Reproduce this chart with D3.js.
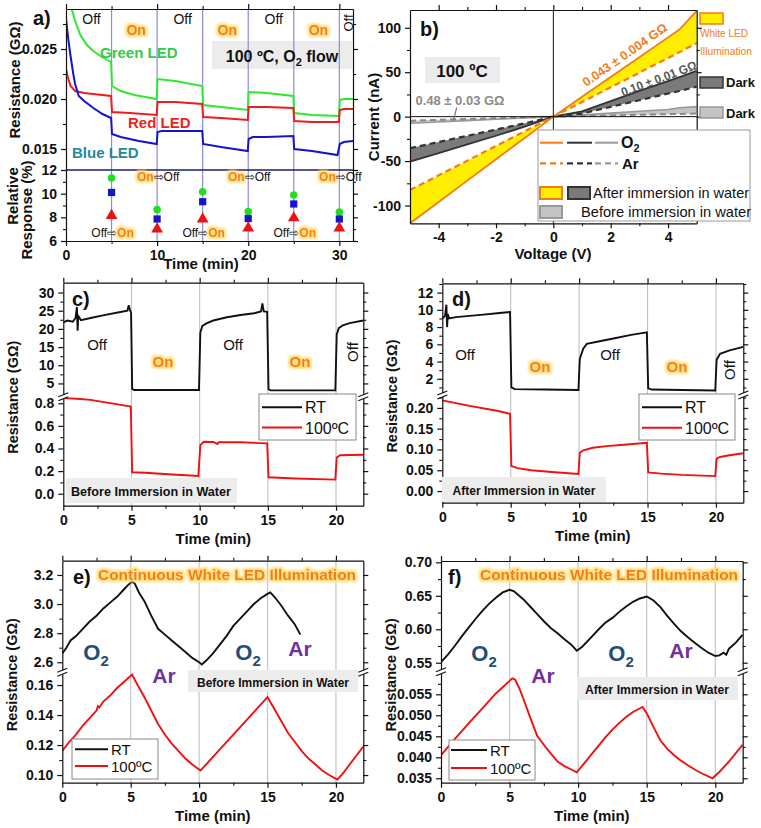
<!DOCTYPE html>
<html>
<head>
<meta charset="utf-8">
<title>LED response of resistance and I-V curves</title>
<script src="https://d3js.org/d3.v7.min.js"></script>
<style>
  body { margin: 0; background: #fff; }
  svg { display: block; font-family: Arial, "Liberation Sans", sans-serif; }
</style>
</head>
<body>
<script>
var FONT = "Arial, 'Liberation Sans', sans-serif";

// ---------- panel a data ----------
var aGreen = [[0.3,0.0315],[0.66,0.0289],[1,0.0278],[1.57,0.0264],[2.3,0.0254],[3,0.0248],[3.76,0.0243],[4.95,0.0237],
  [5.05,0.0213],[6,0.0208],[7.5,0.0204],[9.95,0.0200],[10.05,0.0220],[12,0.0218],[14.95,0.0213],
  [15.05,0.0194],[17,0.0192],[19.95,0.0189],[20.05,0.0207],[22,0.0206],[24.95,0.0203],
  [25.05,0.0186],[27,0.0184],[29.95,0.0183],[30.05,0.0199],[30.5,0.0200],[31.5,0.0200]];
var aRed = [[0,0.0230],[0.2,0.0222],[0.5,0.0213],[1,0.0208],[2,0.0206],[3,0.0205],[4.95,0.0203],
  [5.05,0.0187],[7,0.0186],[9.95,0.0184],[10.05,0.0197],[12,0.0197],[14.95,0.0195],
  [15.05,0.0182],[17,0.0181],[19.95,0.0179],[20.05,0.0192],[22,0.0192],[24.95,0.0191],
  [25.05,0.0178],[27,0.0177],[29.95,0.0177],[30.05,0.0189],[30.5,0.0190],[31.5,0.0190]];
var aBlue = [[0,0.0280],[0.25,0.0260],[0.5,0.0243],[0.8,0.0225],[1,0.0215],[1.4,0.0203],[2,0.0198],[3,0.0191],[4,0.0185],[4.95,0.0181],
  [5.05,0.0165],[6,0.0162],[8,0.0158],[9.95,0.0155],[10.05,0.0167],[10.5,0.0168],[12,0.0168],[14.95,0.0168],
  [15.05,0.0155],[17,0.0152],[19.95,0.0148],[20.05,0.0160],[20.5,0.0162],[22,0.0162],[24.95,0.0163],
  [25.05,0.0150],[27,0.0148],[29.8,0.0144],[30.05,0.0155],[30.5,0.0157],[31.5,0.0158]];
var aSwitch = [5, 10, 15, 20, 25, 30];
var aRespGreen = [11.33, 8.65, 10.16, 8.5, 9.89, 8.45];
var aRespBlue = [10.1, 7.86, 9.32, 7.9, 9.13, 7.86];
var aRespRed = [8.15, 7.0, 7.86, 7.1, 7.95, 7.1];

// ---------- panel b data ----------
var bVolt = [-5, -4, -3, -2, -1, 0, 1, 2, 3, 4, 4.4, 5];
var bO2Light = [-120, -96, -72, -48, -24, 0, 22.3, 44.6, 66.9, 89.2, 98, 119];
var bArLight = [-82.6, -66, -49.5, -33, -16.5, 0, 16.5, 33, 49.5, 66, 72.6, 82.7];
var bO2DarkAfter = [-50.7, -41, -31.3, -21.5, -11.3, 0, 6, 17.5, 29, 40, 44.5, 51.5];
var bArDarkAfter = [-35.5, -28.5, -21.5, -14.5, -7.5, 0, 3.5, 11, 18.5, 26, 28.8, 33.8];
var bO2DarkBefore = [-7.5, -6, -4.5, -3, -1.5, 0, 2, 4, 6, 8, 10, 11.3];
var bArDarkBefore = [-4.5, -3.6, -2.7, -1.8, -0.9, 0, 0.7, 1.4, 2.1, 2.8, 3.1, 3.5];

// ---------- panels c-f data (time in min, resistance in GOhm) ----------
var cRT = [[0,21.8],[0.3,22.3],[0.7,22],[0.9,23],[1.0,26],[1.05,19.5],[1.1,23.5],[1.3,22.4],[2,23],[3,23.8],[4,24.5],[4.7,25],[4.8,26.5],[4.9,25],[4.97,24.5],
  [5.05,3.5],[5.2,3.2],[7.5,3.2],[9.95,3.2],[10.05,19],[10.2,20.8],[10.5,21.5],[11,22.3],[12,23.2],[13,23.8],[14,24.3],[14.5,24.8],[14.6,27],[14.7,24.8],[14.95,24.7],
  [15.05,3.4],[15.2,3.1],[17.5,3.1],[19.95,3.1],[20.05,18.5],[20.2,20.2],[20.5,21.0],[21,21.6],[22,22.3]];
var cHT = [[0,0.845],[1,0.84],[2,0.83],[3,0.81],[4,0.79],[4.95,0.77],[5.05,0.19],[6,0.185],[8,0.17],[9.9,0.157],
  [10.05,0.43],[10.3,0.46],[11,0.458],[11.3,0.44],[11.4,0.455],[13,0.455],[14.95,0.445],[15.05,0.145],[17,0.135],[19.95,0.125],
  [20.05,0.32],[20.3,0.34],[22,0.345]];
var dRT = [[0,9.0],[0.2,9.3],[0.3,10.6],[0.35,8.0],[0.4,9.5],[0.5,9.0],[1,9.15],[2,9.3],[3,9.45],[4,9.6],[4.95,9.75],
  [5.05,1.0],[5.3,0.8],[7.5,0.75],[9.95,0.7],[10.05,4.3],[10.3,5.5],[10.56,6.05],[11.5,6.35],[12.6,6.7],[13.8,7.1],[14.95,7.4],
  [15.05,0.9],[15.3,0.75],[17.5,0.7],[19.95,0.65],[20.05,4.2],[20.3,4.9],[21,5.3],[22,5.7]];
var dHT = [[0,0.218],[2,0.205],[4,0.193],[4.95,0.186],[5.05,0.06],[5.5,0.055],[6.5,0.05],[8,0.046],[9.95,0.041],
  [10.05,0.092],[10.3,0.098],[11,0.104],[12,0.108],[13.5,0.112],[14.95,0.116],[15.05,0.045],[16,0.042],[17.5,0.039],[19.95,0.036],
  [20.05,0.078],[20.3,0.082],[21,0.086],[22,0.091]];
var eRT = [[0,2.66],[0.3,2.7],[0.6,2.75],[1,2.78],[1.5,2.83],[2,2.88],[2.5,2.92],[3,2.97],[3.5,3.01],[4,3.05],[4.5,3.1],[4.8,3.13],[5.1,3.155],
  [5.3,3.14],[5.6,3.08],[6,3.02],[6.5,2.92],[7,2.83],[7.5,2.79],[8,2.75],[8.5,2.71],[9,2.67],[9.5,2.63],[10,2.6],[10.2,2.585],
  [10.5,2.61],[11,2.66],[11.5,2.72],[12,2.78],[12.5,2.85],[13,2.9],[13.5,2.95],[14,3.0],[14.5,3.04],[15,3.07],[15.2,3.08],
  [15.5,3.05],[16,2.99],[16.5,2.92],[17,2.86],[17.4,2.79]];
var eHT = [[0,0.116],[0.5,0.122],[1,0.127],[1.5,0.133],[2,0.138],[2.5,0.143],[2.6,0.146],[2.7,0.145],[3,0.149],[3.5,0.153],[4,0.158],[4.5,0.162],[5.1,0.167],
  [5.5,0.16],[6,0.152],[6.5,0.143],[7,0.134],[7.5,0.127],[8,0.121],[8.5,0.116],[9,0.111],[9.5,0.107],[10.1,0.103],
  [10.5,0.107],[11,0.112],[11.5,0.117],[12,0.122],[12.5,0.127],[13,0.132],[13.5,0.137],[14,0.142],[14.5,0.147],[15,0.152],
  [15.5,0.144],[16,0.136],[16.5,0.128],[17,0.122],[17.5,0.116],[18,0.111],[18.5,0.107],[19,0.103],[19.5,0.1],[20.1,0.097],
  [20.5,0.101],[21,0.107],[21.5,0.113],[22,0.119]];
var fRT = [[0,0.551],[0.5,0.562],[1,0.575],[1.5,0.589],[2,0.602],[2.5,0.615],[3,0.627],[3.5,0.638],[4,0.647],[4.5,0.655],[5,0.659],
  [5.3,0.657],[5.7,0.65],[6,0.645],[6.5,0.634],[7,0.623],[7.5,0.612],[8,0.602],[8.5,0.594],[9,0.585],[9.5,0.577],[9.9,0.568],
  [10.3,0.574],[11,0.589],[11.5,0.6],[12,0.61],[12.5,0.617],[13,0.626],[13.5,0.634],[14,0.641],[14.5,0.646],[15,0.649],
  [15.5,0.643],[16,0.633],[16.5,0.62],[17,0.608],[17.5,0.597],[18,0.588],[18.5,0.58],[19,0.572],[19.5,0.565],[20,0.56],
  [20.3,0.561],[20.6,0.565],[20.8,0.562],[21,0.571],[21.5,0.58],[22,0.592]];
var fHT = [[0,0.0405],[1,0.0443],[2,0.048],[3,0.0516],[4,0.0552],[5.2,0.0588],[5.4,0.0585],[5.7,0.0565],[6,0.054],[6.5,0.0495],
  [7,0.0452],[7.7,0.0421],[8.5,0.039],[9,0.0379],[9.5,0.0371],[9.9,0.0364],[10.5,0.0388],[11,0.0408],[11.5,0.0428],[12,0.0448],
  [12.5,0.0466],[13,0.0482],[13.5,0.0496],[14,0.0508],[14.7,0.052],[15,0.0505],[15.5,0.0472],[16,0.0440],[16.5,0.042],[17,0.0405],
  [17.5,0.0392],[18,0.0381],[18.5,0.0371],[19,0.0362],[19.8,0.035],[20.3,0.0365],[21,0.039],[21.5,0.041],[22,0.043]];

var svg = d3.select("body").append("svg").attr("width", 761).attr("height", 828);
var defs = svg.append("defs");

var glow = defs.append("filter").attr("id", "glow")
  .attr("x", "-20%").attr("y", "-40%").attr("width", "140%").attr("height", "180%");
glow.append("feMorphology").attr("in", "SourceAlpha").attr("operator", "dilate").attr("radius", 1.5).attr("result", "d");
glow.append("feGaussianBlur").attr("in", "d").attr("stdDeviation", 1).attr("result", "b");
glow.append("feFlood").attr("flood-color", "#ffe07a");
glow.append("feComposite").attr("in2", "b").attr("operator", "in").attr("result", "g");
var mg = glow.append("feMerge");
mg.append("feMergeNode").attr("in", "g");
mg.append("feMergeNode").attr("in", "SourceGraphic");

var clipN = 0;
function clip(x, y, w, h) {
  var id = "clip" + (clipN++);
  defs.append("clipPath").attr("id", id).append("rect")
    .attr("x", x).attr("y", y).attr("width", w).attr("height", h);
  return "url(#" + id + ")";
}

function axis(orient, scale, pos, major, minor, fmt) {
  var mk = {bottom: d3.axisBottom, top: d3.axisTop, left: d3.axisLeft, right: d3.axisRight}[orient];
  var tr = (orient == "bottom" || orient == "top") ? "translate(0," + pos + ")" : "translate(" + pos + ",0)";
  if (minor) {
    svg.append("g").attr("transform", tr)
      .call(mk(scale).tickValues(minor).tickSize(3).tickSizeOuter(0).tickFormat(""))
      .call(function(g) { g.select(".domain").remove(); })
      .selectAll("line").attr("stroke", "#111").attr("stroke-width", 1.1);
  }
  var g = svg.append("g").attr("transform", tr)
    .call(mk(scale).tickValues(major).tickSize(5).tickSizeOuter(0).tickPadding(4).tickFormat(fmt || ""));
  g.attr("font-family", FONT).attr("font-size", 14).attr("font-weight", "bold");
  g.selectAll("line, path").attr("stroke", "#111").attr("stroke-width", 1.2);
  g.selectAll("text").attr("fill", "#111");
  return g;
}

function txt(x, y, s, o) {
  o = o || {};
  var t = svg.append("text").attr("x", x).attr("y", y).text(s)
    .attr("font-size", o.size || 14).attr("font-weight", o.weight || "normal")
    .attr("fill", o.fill || "#111").attr("text-anchor", o.anchor || "middle");
  if (o.rotate) t.attr("transform", "rotate(" + o.rotate + "," + x + "," + y + ")").attr("dominant-baseline", "central");
  if (o.glow) t.attr("filter", "url(#glow)");
  if (o.len) t.attr("textLength", o.len).attr("lengthAdjust", "spacingAndGlyphs");
  return t;
}

function sub(x, y, a, b, o) {
  var t = txt(x, y, "", o);
  t.append("tspan").text(a);
  t.append("tspan").attr("font-size", (o.size || 14) * 0.68).attr("dy", (o.size || 14) * 0.25).text(b);
  return t;
}

function orange(x, y, s, size, anchor) {
  return txt(x, y, s, {size: size || 14, weight: "bold", fill: "#f47a1f", glow: true, anchor: anchor});
}

function grayBox(x, y, w, h) {
  svg.append("rect").attr("x", x).attr("y", y).attr("width", w).attr("height", h).attr("fill", "#ececec");
}

// ================= panel a =================
var xA = d3.scaleLinear().domain([0, 31.5]).range([66, 353]);
var yAt = d3.scaleLinear().domain([0.0129, 0.029]).range([170, 9]);
var yAb = d3.scaleLinear().domain([6, 12]).range([241, 170]);

grayBox(212, 41, 140, 28);

svg.selectAll(null).data(aSwitch).enter().append("line")
  .attr("x1", function(d) { return xA(d); }).attr("x2", function(d) { return xA(d); })
  .attr("y1", 9).attr("y2", 241).attr("stroke", "#8c8cd4").attr("stroke-width", 1.2);

var clipA = clip(66, 9, 287, 161);
[[aGreen, "#2ee82e"], [aRed, "#ee1c1c"], [aBlue, "#1414cc"]].forEach(function(s) {
  svg.append("path").datum(s[0]).attr("clip-path", clipA)
    .attr("d", d3.line().x(function(d) { return xA(d[0]); }).y(function(d) { return yAt(d[1]); }))
    .attr("fill", "none").attr("stroke", s[1]).attr("stroke-width", 2);
});

svg.append("line").attr("x1", 66).attr("x2", 353).attr("y1", 170).attr("y2", 170)
  .attr("stroke", "#1c1c6c").attr("stroke-width", 1.6);

axis("bottom", xA, 241, [0, 10, 20, 30], [5, 15, 25], d3.format("d"));
axis("top", xA, 9, [0, 10, 20, 30], [5, 15, 25]);
axis("left", yAt, 66, [0.015, 0.020, 0.025], [0.0175, 0.0225, 0.0275], d3.format(".3f"));
axis("left", yAb, 66, [6, 8, 10, 12], [7, 9, 11], d3.format("d"));
axis("right", yAt, 353, [0.015, 0.020, 0.025], [0.0175, 0.0225, 0.0275]);
axis("right", yAb, 353, [6, 8, 10, 12], [7, 9, 11]);

function markers(vals, shape, size, color) {
  svg.selectAll(null).data(vals).enter().append("path")
    .attr("d", d3.symbol().type(shape).size(size))
    .attr("transform", function(d, i) { return "translate(" + xA(aSwitch[i]) + "," + yAb(d) + ")"; })
    .attr("fill", color);
}
markers(aRespGreen, d3.symbolCircle, 45, "#22dd22");
markers(aRespBlue, d3.symbolSquare, 52, "#1414cc");
markers(aRespRed, d3.symbolTriangle, 60, "#ee1111");

txt(33, 25, "a)", {size: 20, weight: "bold", anchor: "start"});
[0, 1, 2].forEach(function(i) {
  txt(xA(2.8 + 10 * i), 24, "Off", {size: 14});
  orange(xA(7.7 + 10 * i), 35, "On", 14);
});
txt(xA(31), 23, "Off", {size: 13, rotate: -90});
txt(100, 58, "Green LED", {size: 15, weight: "bold", fill: "#33cc44", anchor: "start"});
txt(128, 128, "Red LED", {size: 15, weight: "bold", fill: "#ee2222", anchor: "start"});
txt(72, 158, "Blue LED", {size: 15, weight: "bold", fill: "#2288a0", anchor: "start"});
var tA = txt(282, 62, "100 ºC, ", {size: 16, weight: "bold"});
tA.append("tspan").text("O");
tA.append("tspan").attr("font-size", 11).attr("dy", 4).text("2");
tA.append("tspan").attr("dy", -4).text(" flow");

// "Off⇨On" / "On⇨Off" switch labels; only the "On" word glows
function onOff(cx, y, onFirst) {
  var left = 0;
  var pieces = onFirst ? [["On", true], ["⇨Off", false]] : [["Off⇨", false], ["On", true]];
  var nodes = pieces.map(function(p) {
    var t = p[1] ? orange(0, y, p[0], 12, "start") : txt(0, y, p[0], {size: 12, anchor: "start"});
    return t;
  });
  var widths = nodes.map(function(t) { return t.node().getComputedTextLength(); });
  var x = cx - (widths[0] + widths[1]) / 2;
  nodes[0].attr("x", x);
  nodes[1].attr("x", x + widths[0]);
}
[5, 15, 25].forEach(function(tm) { onOff(xA(tm) + 1, 237, false); });
[10, 20, 30].forEach(function(tm) { onOff(xA(tm) + 1, 181, true); });

txt(14, 80, "Resistance (GΩ)", {size: 15, weight: "bold", rotate: -90});
txt(12, 196, "Relative", {size: 15, weight: "bold", rotate: -90});
txt(26, 210, "Response (%)", {size: 15, weight: "bold", rotate: -90});
txt(201, 269, "Time (min)", {size: 15, weight: "bold"});

// ================= panel b =================
var xB = d3.scaleLinear().domain([-5, 5]).range([410, 696.7]);
var yB = d3.scaleLinear().domain([-120, 120]).range([223.3, 10]);

grayBox(425, 57, 75, 26);

function band(top, bot, fill) {
  svg.append("path").datum(bVolt)
    .attr("d", d3.area().x(function(d) { return xB(d); })
      .y0(function(d, i) { return yB(bot[i]); }).y1(function(d, i) { return yB(top[i]); }))
    .attr("fill", fill);
}
band(bO2Light, bArLight, "#ffee00");
band(bO2DarkAfter, bArDarkAfter, "#7a7a7a");
band(bO2DarkBefore, bArDarkBefore, "#c4c4c4");

function ivLine(vals, color, dash, w) {
  svg.append("path").datum(bVolt)
    .attr("d", d3.line().x(function(d) { return xB(d); }).y(function(d, i) { return yB(vals[i]); }))
    .attr("fill", "none").attr("stroke", color).attr("stroke-width", w || 1.8)
    .attr("stroke-dasharray", dash ? "6,4" : null);
}
ivLine(bO2DarkBefore, "#999", false, 1.6);
ivLine(bArDarkBefore, "#888", true, 2);
ivLine(bO2DarkAfter, "#333", false, 1.8);
ivLine(bArDarkAfter, "#333", true, 2.2);
ivLine(bO2Light, "#f37b1c", false, 1.8);
ivLine(bArLight, "#f37b1c", true, 2.2);

svg.append("line").attr("x1", xB(0)).attr("x2", xB(0)).attr("y1", 10).attr("y2", 223.3).attr("stroke", "#111");
svg.append("line").attr("x1", 410).attr("x2", 696.7).attr("y1", yB(0)).attr("y2", yB(0)).attr("stroke", "#111");

axis("bottom", xB, 223.3, [-4, -2, 0, 2, 4], [-3, -1, 1, 3], function(d) { return String(d); });
axis("top", xB, 10, [-4, -2, 0, 2, 4], [-3, -1, 1, 3]);
axis("left", yB, 410, [-100, -50, 0, 50, 100], [-75, -25, 25, 75], function(d) { return String(d); });
axis("right", yB, 696.7, [-100, -50, 0, 50, 100], [-75, -25, 25, 75]);

txt(420, 36, "b)", {size: 20, weight: "bold", anchor: "start"});
txt(462, 77, "100 ºC", {size: 17, weight: "bold"});
txt(625, 55, "0.043 ± 0.004 GΩ", {size: 12.5, weight: "bold", fill: "#f37b1c", rotate: -35, len: 100});
txt(659, 79, "0.10 ± 0.01 GΩ", {size: 12.5, weight: "bold", fill: "#555", rotate: -20.5, len: 80});
txt(460, 105, "0.48 ± 0.03 GΩ", {size: 13, weight: "bold", fill: "#8a8a8a"});
svg.append("line").attr("x1", 456.7).attr("y1", 107.5).attr("x2", 453.3).attr("y2", 121)
  .attr("stroke", "#777").attr("stroke-width", 1.2);

// right side key
svg.append("rect").attr("x", 700).attr("y", 13).attr("width", 23).attr("height", 11)
  .attr("fill", "#ffee00").attr("stroke", "#f37b1c").attr("stroke-width", 1.5);
txt(700, 37, "White LED", {size: 11, fill: "#f37b1c", anchor: "start", len: 48});
txt(700, 55, "Illumination", {size: 11, fill: "#f37b1c", anchor: "start", len: 52});
svg.append("rect").attr("x", 700).attr("y", 77).attr("width", 23).attr("height", 11)
  .attr("fill", "#7a7a7a").attr("stroke", "#333").attr("stroke-width", 1.5);
txt(726, 87, "Dark", {size: 13, weight: "bold", anchor: "start"});
svg.append("rect").attr("x", 700).attr("y", 107).attr("width", 23).attr("height", 11)
  .attr("fill", "#c4c4c4").attr("stroke", "#999").attr("stroke-width", 1.5);
txt(726, 118, "Dark", {size: 13, weight: "bold", anchor: "start"});

// legend box
svg.append("rect").attr("x", 538).attr("y", 130).attr("width", 212).attr("height", 91)
  .attr("fill", "#fff").attr("stroke", "#999").attr("stroke-width", 1);
[[540, 563, "#f37b1c"], [567, 592, "#333"], [595, 618, "#999"]].forEach(function(s) {
  svg.append("line").attr("x1", s[0]).attr("x2", s[1]).attr("y1", 142.7).attr("y2", 142.7)
    .attr("stroke", s[2]).attr("stroke-width", 2);
  svg.append("line").attr("x1", s[0]).attr("x2", s[1]).attr("y1", 163.3).attr("y2", 163.3)
    .attr("stroke", s[2]).attr("stroke-width", 2.2).attr("stroke-dasharray", "6,4");
});
sub(621, 148, "O", "2", {size: 16, weight: "bold", anchor: "start"});
txt(622, 169, "Ar", {size: 15, weight: "bold", anchor: "start"});
svg.append("rect").attr("x", 540).attr("y", 187).attr("width", 22).attr("height", 12)
  .attr("fill", "#ffee00").attr("stroke", "#f37b1c").attr("stroke-width", 2);
svg.append("rect").attr("x", 568).attr("y", 187).attr("width", 22).attr("height", 12)
  .attr("fill", "#7a7a7a").attr("stroke", "#333").attr("stroke-width", 2);
txt(593, 198, "After immersion in water", {size: 14.5, anchor: "start", len: 156});
svg.append("rect").attr("x", 540).attr("y", 206).attr("width", 22).attr("height", 12)
  .attr("fill", "#c4c4c4").attr("stroke", "#999").attr("stroke-width", 2);
txt(581, 217, "Before immersion in water", {size: 14.5, anchor: "start", len: 170});

txt(373, 117, "Current (nA)", {size: 15, weight: "bold", rotate: -90});
txt(553, 259, "Voltage (V)", {size: 15, weight: "bold"});

// ================= panels c-f =================
function brokenPanel(p) {
  var x = d3.scaleLinear().domain([0, 22]).range([p.x0, p.x1]);
  var yU = d3.scaleLinear().domain(p.up.dom).range([p.yBrk, p.yTop]);
  var yL = d3.scaleLinear().domain(p.lo.dom).range([p.yBot, p.yBrk]);

  svg.selectAll(null).data([5, 10, 15, 20]).enter().append("line")
    .attr("x1", function(d) { return x(d); }).attr("x2", function(d) { return x(d); })
    .attr("y1", p.yTop).attr("y2", p.yBot).attr("stroke", "#c4c4c4").attr("stroke-width", 1.2);

  svg.append("path").datum(p.rt).attr("clip-path", clip(p.x0, p.yTop, p.x1 - p.x0, p.yBrk - p.yTop))
    .attr("d", d3.line().x(function(d) { return x(d[0]); }).y(function(d) { return yU(d[1]); }))
    .attr("fill", "none").attr("stroke", "#111").attr("stroke-width", 1.9);
  svg.append("path").datum(p.ht).attr("clip-path", clip(p.x0, p.yBrk, p.x1 - p.x0, p.yBot - p.yBrk))
    .attr("d", d3.line().x(function(d) { return x(d[0]); }).y(function(d) { return yL(d[1]); }))
    .attr("fill", "none").attr("stroke", "#f01010").attr("stroke-width", 1.9);

  axis("bottom", x, p.yBot, [0, 5, 10, 15, 20], [2.5, 7.5, 12.5, 17.5], d3.format("d"));
  axis("top", x, p.yTop, [0, 5, 10, 15, 20], [2.5, 7.5, 12.5, 17.5]);
  axis("left", yU, p.x0, p.up.major, p.up.minor, d3.format(p.up.fmt));
  axis("left", yL, p.x0, p.lo.major, p.lo.minor, d3.format(p.lo.fmt));
  axis("right", yU, p.x1, p.up.major, p.up.minor);
  axis("right", yL, p.x1, p.lo.major, p.lo.minor);

  [p.x0, p.x1].forEach(function(bx) {
    svg.append("rect").attr("x", bx - 2).attr("y", p.yBrk - 2).attr("width", 4).attr("height", 4).attr("fill", "#fff");
    [-2, 2].forEach(function(dy) {
      svg.append("line").attr("x1", bx - 5).attr("y1", p.yBrk + dy + 2).attr("x2", bx + 5).attr("y2", p.yBrk + dy - 2)
        .attr("stroke", "#111").attr("stroke-width", 1.2);
    });
  });

  var cx = (p.x0 + p.x1) / 2;
  txt(cx, p.yBot + 38, "Time (min)", {size: 15, weight: "bold"});
  txt(p.x0 - 50, (p.yTop + p.yBot) / 2 + 3, "Resistance (GΩ)", {size: 14.5, weight: "bold", rotate: -90});
  return {x: x, yU: yU, yL: yL};
}

function legendRT(x, y, w, h, lx1, lx2, ly1, ly2, size) {
  svg.append("rect").attr("x", x).attr("y", y).attr("width", w).attr("height", h)
    .attr("fill", "#fff").attr("stroke", "#888").attr("stroke-width", 1);
  svg.append("line").attr("x1", lx1).attr("x2", lx2).attr("y1", ly1).attr("y2", ly1).attr("stroke", "#111").attr("stroke-width", 2);
  svg.append("line").attr("x1", lx1).attr("x2", lx2).attr("y1", ly2).attr("y2", ly2).attr("stroke", "#f01010").attr("stroke-width", 2);
  txt(lx2 + 3, ly1 + 6, "RT", {size: size, anchor: "start"});
  txt(lx2 + 3, ly2 + 6, "100ºC", {size: size, anchor: "start"});
}

// panel c
brokenPanel({x0: 63.3, x1: 363.3, yTop: 282.7, yBrk: 396.7, yBot: 505.7, rt: cRT, ht: cHT,
  up: {dom: [1.35, 32.7], major: [5, 10, 15, 20, 25, 30], minor: [7.5, 12.5, 17.5, 22.5, 27.5], fmt: "d"},
  lo: {dom: [-0.106, 0.858], major: [0, 0.2, 0.4, 0.6, 0.8], minor: [0.1, 0.3, 0.5, 0.7], fmt: ".1f"}});
txt(72, 306, "c)", {size: 20, weight: "bold", anchor: "start"});
txt(97, 350, "Off", {size: 15}); orange(163, 367, "On", 15);
txt(233, 350, "Off", {size: 15}); orange(300, 367, "On", 15);
txt(352, 352, "Off", {size: 15, rotate: -90});
legendRT(259, 394, 97, 46, 262, 302, 407.3, 427.5, 16);
grayBox(66, 478, 171, 25);
txt(151, 496, "Before Immersion in Water", {size: 12, weight: "bold", len: 160});

// panel d
brokenPanel({x0: 442.3, x1: 743.3, yTop: 283.3, yBrk: 395, yBot: 502.7, rt: dRT, ht: dHT,
  up: {dom: [0.12, 13.08], major: [2, 4, 6, 8, 10, 12], minor: [1, 3, 5, 7, 9, 11, 13], fmt: "d"},
  lo: {dom: [-0.028, 0.231], major: [0, 0.05, 0.1, 0.15, 0.2], minor: [0.025, 0.075, 0.125, 0.175, 0.225], fmt: ".2f"}});
txt(452, 306, "d)", {size: 20, weight: "bold", anchor: "start"});
txt(465, 360, "Off", {size: 15}); orange(540, 372, "On", 15);
txt(610, 360, "Off", {size: 15}); orange(677, 372, "On", 15);
txt(729, 370, "Off", {size: 15, rotate: -90});
legendRT(639, 394, 96, 46, 642, 682, 407.3, 427.7, 16);
grayBox(442, 477, 164, 25);
txt(524, 495, "After Immersion in Water", {size: 12, weight: "bold", len: 143});

// panel e
brokenPanel({x0: 62.3, x1: 363.3, yTop: 560.7, yBrk: 672.3, yBot: 782.7, rt: eRT, ht: eHT,
  up: {dom: [2.531, 3.298], major: [2.6, 2.8, 3.0, 3.2], minor: [2.7, 2.9, 3.1], fmt: ".1f"},
  lo: {dom: [0.0949, 0.1685], major: [0.10, 0.12, 0.14, 0.16], minor: [0.11, 0.13, 0.15], fmt: ".2f"}});
txt(73, 584, "e)", {size: 20, weight: "bold", anchor: "start"});
txt(227, 580, "Continuous White LED Illumination", {size: 14, weight: "900", fill: "#f47a1f", glow: true, len: 258});
sub(96, 660, "O", "2", {size: 22, weight: "bold", fill: "#1f4e79"});
txt(164, 683, "Ar", {size: 21, weight: "bold", fill: "#7030a0"});
sub(248, 660, "O", "2", {size: 22, weight: "bold", fill: "#1f4e79"});
txt(300, 656, "Ar", {size: 21, weight: "bold", fill: "#7030a0"});
grayBox(188, 670, 170, 22);
txt(273, 687, "Before Immersion in Water", {size: 12, weight: "bold", len: 152});
legendRT(72, 739, 86, 40, 75, 108, 749.3, 766, 15);

// panel f
brokenPanel({x0: 441, x1: 742.7, yTop: 561, yBrk: 671.7, yBot: 782.7, rt: fRT, ht: fHT,
  up: {dom: [0.5366, 0.702], major: [0.55, 0.60, 0.65, 0.70], minor: [0.575, 0.625, 0.675], fmt: ".2f"},
  lo: {dom: [0.03395, 0.06038], major: [0.035, 0.040, 0.045, 0.050, 0.055], minor: [0.0375, 0.0425, 0.0475, 0.0525, 0.0575], fmt: ".3f"}});
txt(448, 584, "f)", {size: 20, weight: "bold", anchor: "start"});
txt(609, 580, "Continuous White LED Illumination", {size: 14, weight: "900", fill: "#f47a1f", glow: true, len: 258});
sub(484, 661, "O", "2", {size: 22, weight: "bold", fill: "#1f4e79"});
txt(543, 683, "Ar", {size: 21, weight: "bold", fill: "#7030a0"});
sub(621, 661, "O", "2", {size: 22, weight: "bold", fill: "#1f4e79"});
txt(681, 658, "Ar", {size: 21, weight: "bold", fill: "#7030a0"});
grayBox(577, 677, 161, 23);
txt(657, 694, "After Immersion in Water", {size: 12, weight: "bold", len: 144});
legendRT(449, 740, 86, 40, 451, 487, 750, 768, 15);
</script>
</body>
</html>
